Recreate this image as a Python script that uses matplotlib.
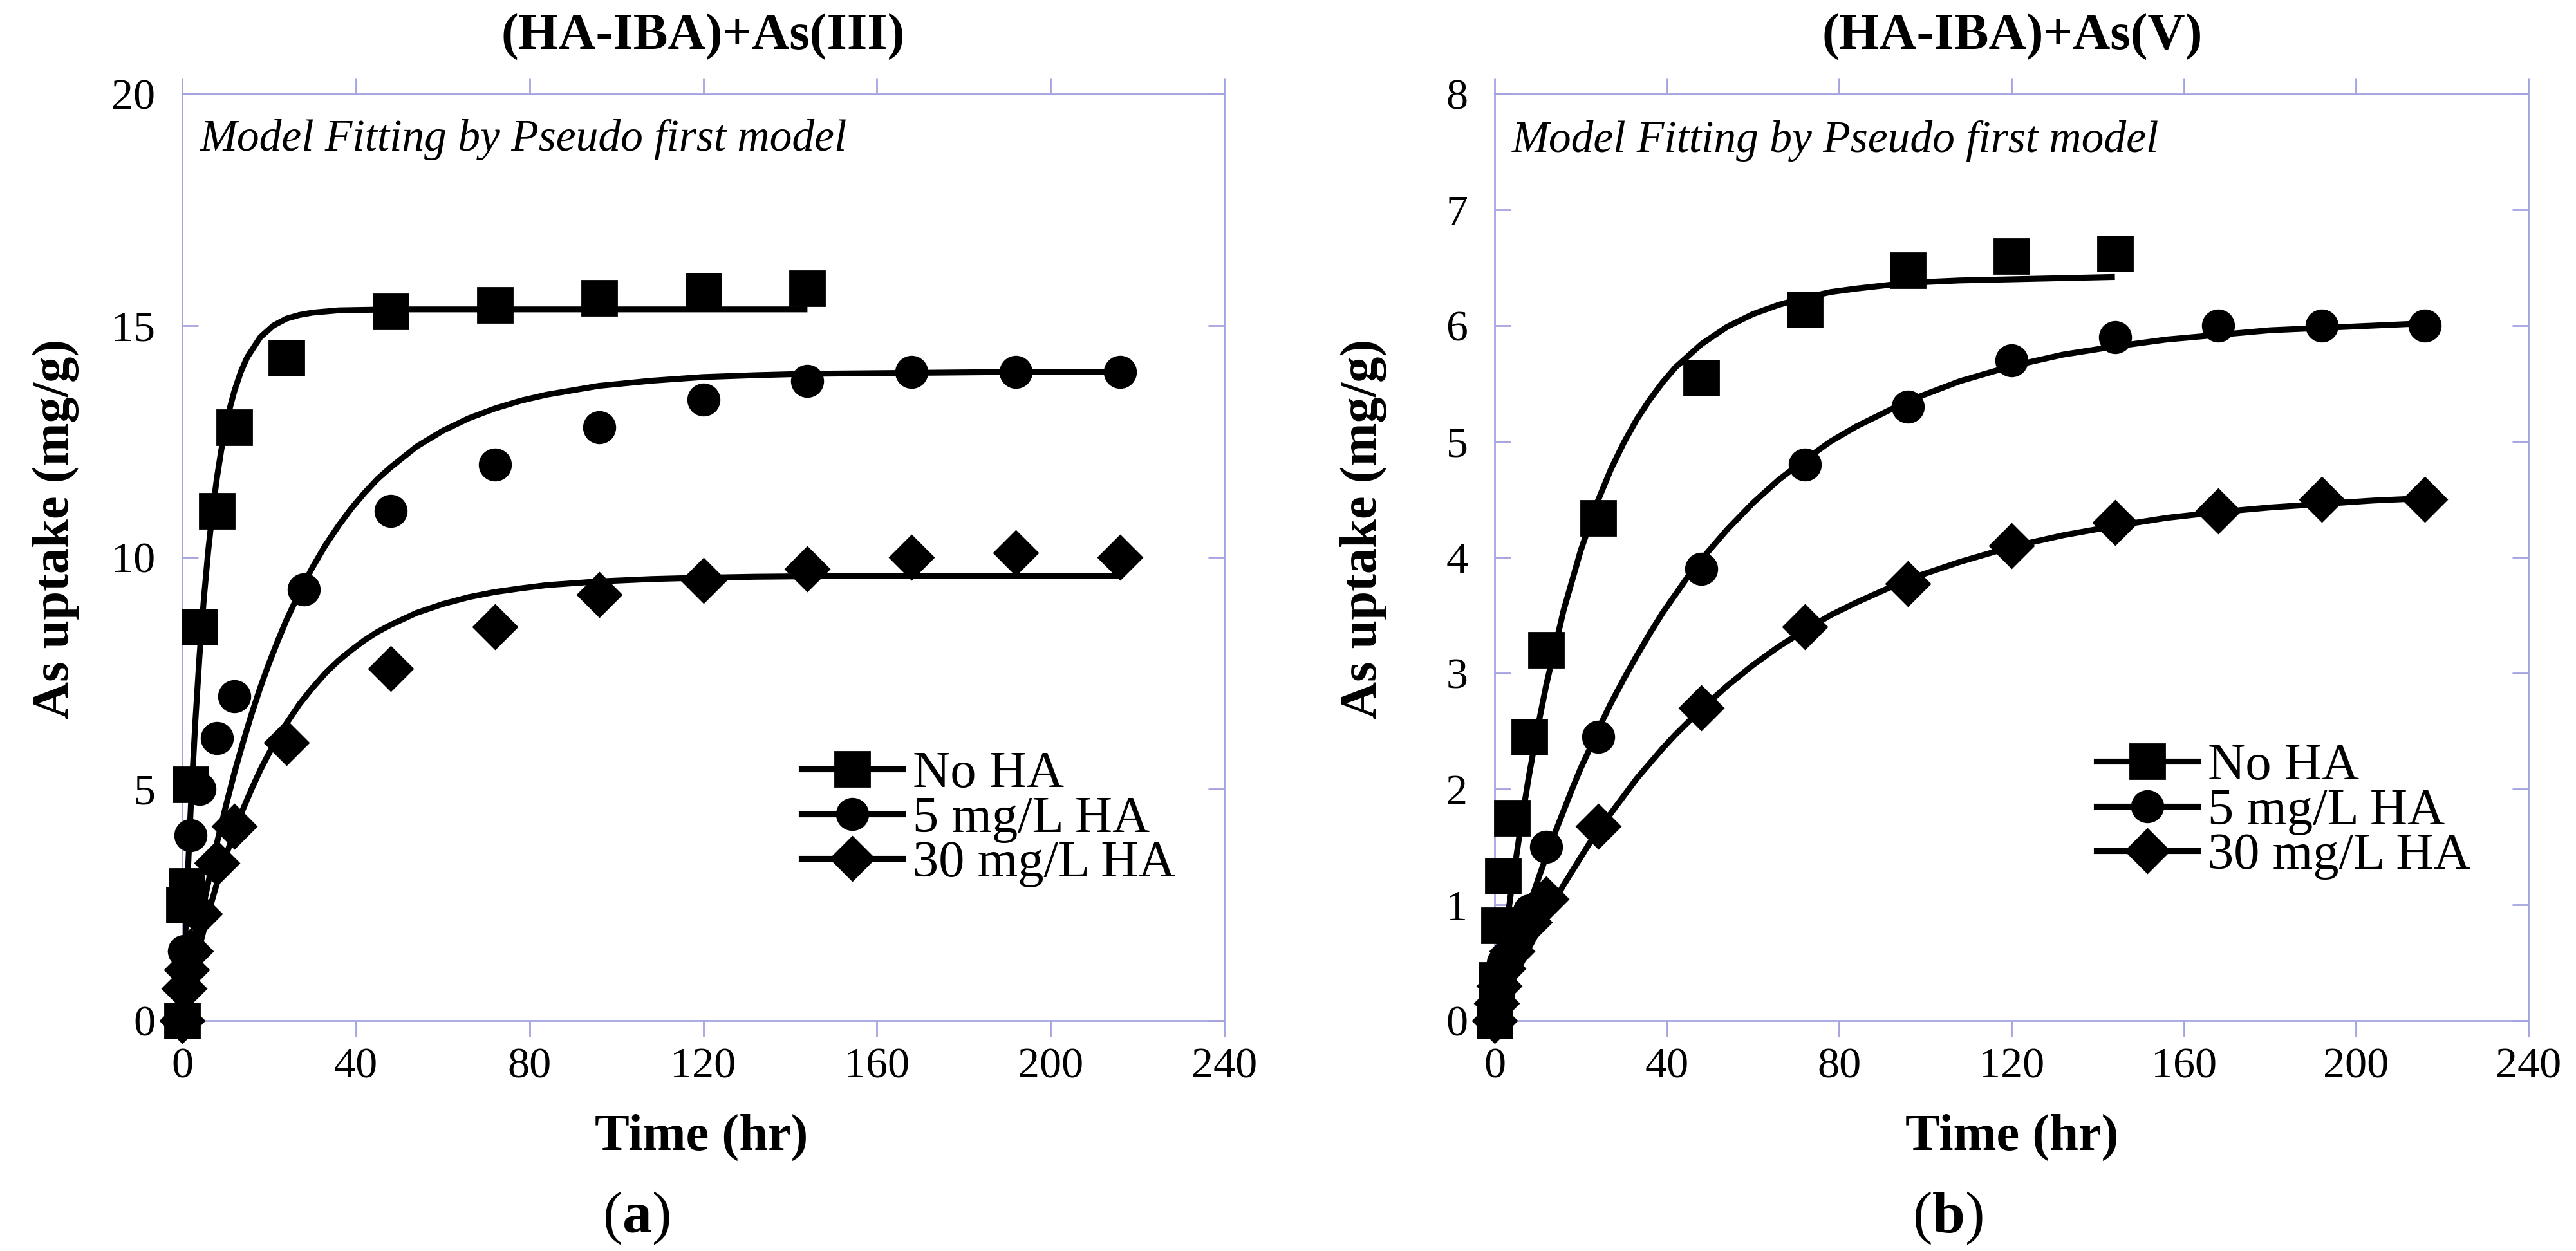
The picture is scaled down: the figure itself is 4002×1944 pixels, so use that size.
import matplotlib
matplotlib.use("Agg")
import matplotlib.pyplot as plt
from matplotlib.lines import Line2D

plt.rcParams["font.family"] = ["Liberation Serif", "DejaVu Serif"]
plt.rcParams["mathtext.fontset"] = "custom"
plt.rcParams["mathtext.rm"] = "Liberation Serif"
plt.rcParams["mathtext.bf"] = "Liberation Serif:bold"

# ---- data ----
labels = ["No HA", "5 mg/L HA", "30 mg/L HA"]
markers = ["s", "o", "D"]
msizes = {"s": 19.5, "o": 17.5, "D": 17.5}

# panel (a): As(III)
a_t_noha = [0, 0.5, 1, 2, 4, 8, 12, 24, 48, 72, 96, 120, 144]
a_q_noha = [0, 2.5, 2.9, 5.1, 8.5, 11.0, 12.8, 14.3, 15.3, 15.45, 15.6, 15.75, 15.8]
a_t_5 = [0, 0.5, 1, 2, 4, 8, 12, 28, 48, 72, 96, 120, 144, 168, 192, 216]
a_q_5 = [0, 1.5, 2.5, 4.0, 5.0, 6.1, 7.0, 9.3, 11.0, 12.0, 12.8, 13.4, 13.8, 14.0, 14.0, 14.0]
a_t_30 = [0, 0.5, 1, 2, 4, 8, 12, 24, 48, 72, 96, 120, 144, 168, 192, 216]
a_q_30 = [0, 0.7, 1.1, 1.5, 2.3, 3.4, 4.2, 6.0, 7.6, 8.5, 9.2, 9.5, 9.75, 10.0, 10.1, 10.0]

# fitted curves
a_fit_t_noha = [0, 1, 2, 3, 4, 5, 6, 7, 8, 9, 10, 11, 12, 13.5, 15, 18, 21, 24, 27, 30, 36,
                48, 72, 96, 120, 144]
a_fit_q_noha = [0, 2.53, 4.64, 6.40, 7.88, 9.11, 10.14, 10.99, 11.71, 12.31, 12.81, 13.23,
                13.58, 14.0, 14.32, 14.75, 15.0, 15.15, 15.23, 15.28, 15.33, 15.35, 15.35,
                15.35, 15.35, 15.35]
fit_t = [0, 2, 4, 6, 8, 10, 12, 14, 16, 18, 20, 22, 24, 27, 30, 33, 36, 39, 42, 45, 48, 54,
         60, 66, 72, 78, 84, 96, 108, 120, 132, 144, 156, 168, 180, 192, 204, 216]
a_fit_q_5 = [0, 1.08, 2.07, 2.98, 3.83, 4.61, 5.34, 6.0, 6.62, 7.19, 7.71, 8.19, 8.64, 9.24,
             9.78, 10.26, 10.68, 11.06, 11.39, 11.69, 11.94, 12.39, 12.73, 13.0, 13.21, 13.38,
             13.51, 13.70, 13.81, 13.89, 13.93, 13.96, 13.97, 13.98, 13.99, 14.0, 14.0, 14.0]
a_fit_q_30 = [0, 0.84, 1.61, 2.31, 2.96, 3.54, 4.07, 4.56, 5.0, 5.41, 5.77, 6.11, 6.41, 6.83,
              7.18, 7.50, 7.77, 8.0, 8.21, 8.39, 8.54, 8.80, 8.99, 9.14, 9.25, 9.33, 9.40,
              9.48, 9.53, 9.56, 9.58, 9.59, 9.6, 9.6, 9.6, 9.6, 9.6, 9.6]

# panel (b): As(V)
b_t_noha = [0, 0.5, 1, 2, 4, 8, 12, 24, 48, 72, 96, 120, 144]
b_q_noha = [0, 0.35, 0.82, 1.25, 1.75, 2.45, 3.2, 4.34, 5.55, 6.14, 6.48, 6.6, 6.62]
b_t_5 = [0, 0.5, 1, 2, 4, 8, 12, 24, 48, 72, 96, 120, 144, 168, 192, 216]
b_q_5 = [0, 0.2, 0.35, 0.5, 0.7, 0.95, 1.5, 2.45, 3.9, 4.8, 5.3, 5.7, 5.9, 6.0, 6.0, 6.0]
b_t_30 = [0, 0.5, 1, 2, 4, 8, 12, 24, 48, 72, 96, 120, 144, 168, 192, 216]
b_q_30 = [0, 0.15, 0.3, 0.45, 0.6, 0.85, 1.05, 1.68, 2.7, 3.4, 3.77, 4.1, 4.3, 4.4, 4.5, 4.5]

b_fit_t_noha = [0, 2, 4, 6, 8, 10, 12, 16, 20, 24, 27, 30, 33, 36, 39, 42, 45, 48, 54, 60,
                66, 72, 78, 84, 96, 108, 120, 144]
b_fit_q_noha = [0, 0.61, 1.16, 1.66, 2.12, 2.53, 2.90, 3.54, 4.06, 4.49, 4.76, 4.99, 5.19,
                5.36, 5.51, 5.64, 5.74, 5.84, 5.99, 6.10, 6.18, 6.24, 6.29, 6.32, 6.37, 6.39,
                6.40, 6.42]
b_fit_q_5 = [0, 0.26, 0.52, 0.76, 0.99, 1.21, 1.42, 1.62, 1.81, 2.0, 2.18, 2.34, 2.51, 2.74,
             2.95, 3.15, 3.34, 3.52, 3.68, 3.84, 3.98, 4.24, 4.47, 4.67, 4.84, 5.0, 5.13,
             5.35, 5.52, 5.65, 5.75, 5.82, 5.88, 5.92, 5.96, 5.98, 6.0, 6.02]
b_fit_q_30 = [0, 0.17, 0.33, 0.48, 0.63, 0.77, 0.91, 1.04, 1.17, 1.29, 1.41, 1.53, 1.63, 1.79,
              1.94, 2.09, 2.22, 2.35, 2.47, 2.58, 2.69, 2.89, 3.07, 3.23, 3.37, 3.50, 3.61,
              3.81, 3.96, 4.09, 4.19, 4.27, 4.34, 4.39, 4.43, 4.46, 4.49, 4.51]

x_ticks = [0, 40, 80, 120, 160, 200, 240]
a_y_ticks = [0, 5, 10, 15, 20]
b_y_ticks = [0, 1, 2, 3, 4, 5, 6, 7, 8]

frame = "#a3a3e0"
W, H = 4002, 1944

fig = plt.figure(figsize=(W / 200, H / 200), dpi=200)
ax_a = fig.add_axes([283 / W, 1 - 1586 / H, 1619 / W, 1440 / H])
ax_b = fig.add_axes([2322 / W, 1 - 1586 / H, 1606 / W, 1440 / H])


def draw_panel(ax, data, fits, yticks, ymax, note_y):
    for (t, q), m in zip(data, markers):
        ax.plot(t, q, linestyle="none", marker=m, color="black", markersize=msizes[m],
                clip_on=False, zorder=3)
    for t, q in fits:
        ax.plot(t, q, color="black", lw=3.3, zorder=2, solid_capstyle="butt")
    ax.set_xlim(0, 240)
    ax.set_ylim(0, ymax)
    ax.set_xticks(x_ticks)
    ax.set_yticks(yticks)
    for s in ax.spines.values():
        s.set_color(frame)
        s.set_linewidth(1.0)
    ax.tick_params(axis="x", which="both", direction="out", top=True, bottom=True,
                   length=9, width=1.0, color=frame, labelsize=24.5, pad=6)
    ax.tick_params(axis="y", which="both", direction="in", left=True, right=True,
                   length=9, width=1.0, color=frame, labelsize=24.5, pad=15)
    ax.text(0.017, note_y, "Model Fitting by Pseudo first model", transform=ax.transAxes,
            fontsize=25, style="italic", ha="left", va="center")
    return [Line2D([], [], color="black", lw=3.3, marker=m, markersize=msizes[m])
            for m in markers]


leg_kw = dict(loc="upper left", bbox_transform=fig.transFigure, frameon=False, fontsize=29,
              borderpad=0, handlelength=1.95, handletextpad=0.2, labelspacing=-0.05,
              borderaxespad=0)

h = draw_panel(ax_a,
               [(a_t_noha, a_q_noha), (a_t_5, a_q_5), (a_t_30, a_q_30)],
               [(a_fit_t_noha, a_fit_q_noha), (fit_t, a_fit_q_5), (fit_t, a_fit_q_30)],
               a_y_ticks, 20, 0.951)
ax_a.legend(h, labels, bbox_to_anchor=(1245 / W, 1 - 1167 / H), **leg_kw)

h = draw_panel(ax_b,
               [(b_t_noha, b_q_noha), (b_t_5, b_q_5), (b_t_30, b_q_30)],
               [(b_fit_t_noha, b_fit_q_noha), (fit_t, b_fit_q_5), (fit_t, b_fit_q_30)],
               b_y_ticks, 8, 0.949)
ax_b.legend(h, labels, bbox_to_anchor=(3257 / W, 1 - 1155 / H), **leg_kw)

# titles, axis labels, panel letters
fig.text(1092 / W, 1 - 57 / H, "(HA-IBA)+As(III)", fontsize=29, fontweight="bold",
         ha="center", va="center")
fig.text(3126 / W, 1 - 57 / H, "(HA-IBA)+As(V)", fontsize=29, fontweight="bold",
         ha="center", va="center")
for xc in (1090 / W, 3126 / W):
    fig.text(xc, 1 - 1767 / H, "Time (hr)", fontsize=29, fontweight="bold",
             ha="center", va="center")
for xc in (86 / W, 2118 / W):
    fig.text(xc, 1 - 822 / H, "As uptake (mg/g)", fontsize=29, fontweight="bold",
             rotation=90, ha="center", va="center")
fig.text(988 / W, 1 - 1893 / H, r"($\mathbf{a}$)", fontsize=33, ha="center", va="center")
fig.text(3026 / W, 1 - 1893 / H, r"($\mathbf{b}$)", fontsize=33, ha="center", va="center")

fig.savefig("out.png", dpi=200)
